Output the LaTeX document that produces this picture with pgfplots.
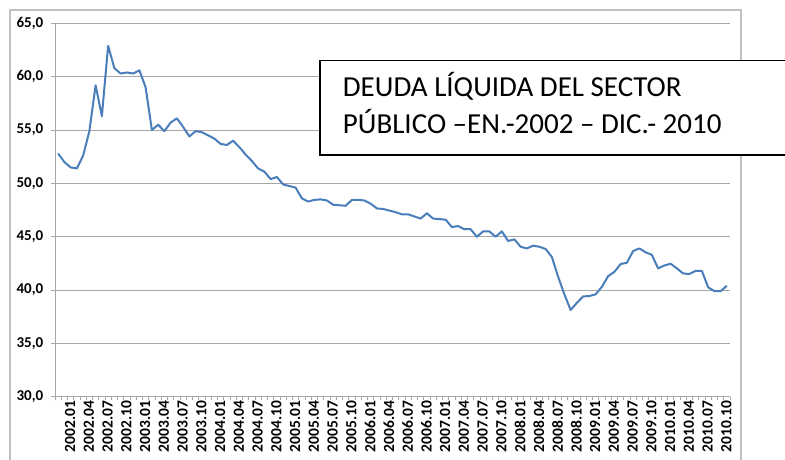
\documentclass[border=0pt]{standalone}
\usepackage{pgfplots}
\pgfplotsset{compat=1.18}
\usepackage{fontspec}
\setmainfont{Carlito}
\definecolor{linecol}{HTML}{4A7EBB}
\definecolor{gridcol}{HTML}{A6A6A6}
\definecolor{framecol}{HTML}{BFBFBF}
\begin{document}
\begin{tikzpicture}[x=1pt,y=1pt]
\useasboundingbox (0,0) rectangle (785,460);
\clip (0,0) rectangle (785,460);
\draw[framecol, line width=1.2pt] (10,-20) rectangle (741,450);
\begin{axis}[
  at={(55pt,63.3pt)}, anchor=south west,
  scale only axis, width=675pt, height=373.3pt,
  xmin=-0.5, xmax=107.5, ymin=30, ymax=65,
  axis x line*=bottom, axis y line*=left,
  axis line style={gridcol, line width=0.9pt},
  ytick={30,35,...,65},
  ymajorgrids, grid style={gridcol, line width=0.9pt},
  xtick={0,3,...,105},
  xticklabels={2002.01,2002.04,2002.07,2002.10,2003.01,2003.04,2003.07,2003.10,2004.01,2004.04,2004.07,2004.10,2005.01,2005.04,2005.07,2005.10,2006.01,2006.04,2006.07,2006.10,2007.01,2007.04,2007.07,2007.10,2008.01,2008.04,2008.07,2008.10,2009.01,2009.04,2009.07,2009.10,2010.01,2010.04,2010.07,2010.10},
  minor xtick={-0.5,0.5,...,107.5},
  tick align=outside,
  major tick length=4pt, minor tick length=3.5pt,
  major x tick style={draw=none},
  every tick/.style={gridcol, line width=0.8pt},
  xticklabel style={rotate=90, anchor=east, font=\bfseries\fontsize{15.5}{15.5}\selectfont, inner sep=0pt, yshift=-12pt},
  yticklabel style={font=\bfseries\fontsize{15}{15}\selectfont, inner sep=0pt, xshift=-7.5pt},
  /pgf/number format/.cd, fixed, fixed zerofill, precision=1, use comma, assume math mode=true,
]
\addplot[linecol, line width=2pt, line join=round] coordinates {
(0,52.8)(1,52.0)(2,51.5)(3,51.4)(4,52.6)(5,54.9)(6,59.2)(7,56.3)(8,62.9)(9,60.8)
(10,60.3)(11,60.4)(12,60.3)(13,60.6)(14,59.0)(15,55.0)(16,55.5)(17,54.9)(18,55.7)(19,56.1)
(20,55.3)(21,54.4)(22,54.9)(23,54.8)(24,54.5)(25,54.2)(26,53.7)(27,53.6)(28,54.0)(29,53.4)
(30,52.7)(31,52.1)(32,51.4)(33,51.1)(34,50.4)(35,50.6)(36,49.9)(37,49.75)(38,49.6)(39,48.6)
(40,48.3)(41,48.45)(42,48.5)(43,48.4)(44,48.0)(45,47.95)(46,47.9)(47,48.45)(48,48.45)(49,48.4)
(50,48.1)(51,47.65)(52,47.6)(53,47.45)(54,47.3)(55,47.1)(56,47.1)(57,46.9)(58,46.7)(59,47.2)
(60,46.7)(61,46.65)(62,46.6)(63,45.9)(64,46.0)(65,45.7)(66,45.7)(67,45.0)(68,45.5)(69,45.5)
(70,45.0)(71,45.5)(72,44.6)(73,44.75)(74,44.06)(75,43.9)(76,44.16)(77,44.06)(78,43.85)(79,43.1)
(80,41.25)(81,39.6)(82,38.13)(83,38.8)(84,39.4)(85,39.44)(86,39.6)(87,40.3)(88,41.3)(89,41.7)
(90,42.44)(91,42.56)(92,43.66)(93,43.9)(94,43.54)(95,43.3)(96,42.03)(97,42.3)(98,42.47)(99,42.03)
(100,41.56)(101,41.5)(102,41.8)(103,41.8)(104,40.26)(105,39.9)(106,39.9)(107,40.4)
};
\end{axis}
\draw[black, line width=1.3pt, fill=white] (320,399.3) rectangle (800,305);
\node[anchor=base west, inner sep=0pt, font=\fontsize{29}{29}\selectfont] at (342.7,363.3) {DEUDA LÍQUIDA DEL SECTOR};
\node[anchor=base west, inner sep=0pt, font=\fontsize{29}{29}\selectfont] at (342.7,326.7) {PÚBLICO –EN.-2002 – DIC.- 2010};
\end{tikzpicture}
\end{document}
